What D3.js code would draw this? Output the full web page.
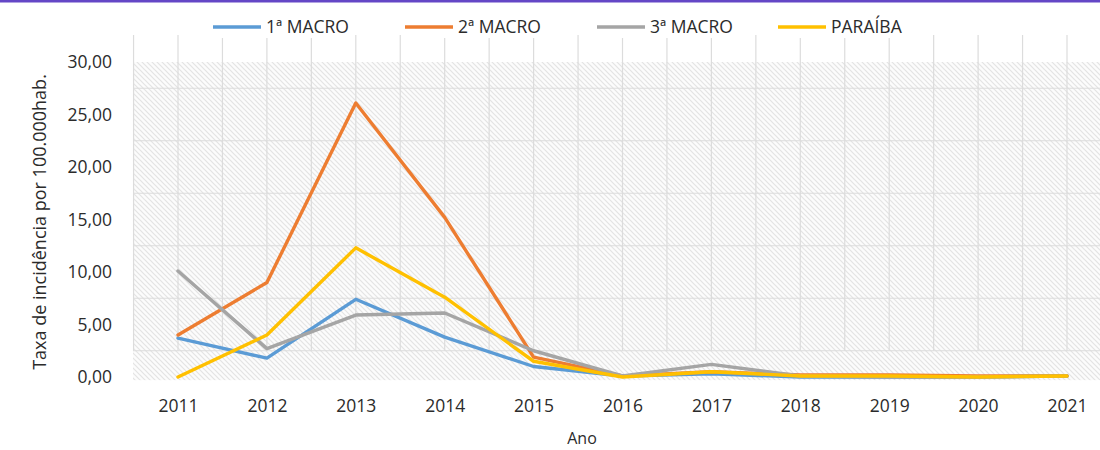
<!DOCTYPE html>
<html>
<head>
<meta charset="utf-8">
<script src="https://cdn.jsdelivr.net/npm/d3@7"></script>
<style>
  body { margin: 0; background: #fff; }
  svg { display: block; }
  text { font-family: "Open Sans", "Noto Sans", sans-serif; fill: #2b2b2b; }
</style>
</head>
<body>
<svg id="chart" width="1100" height="450"></svg>
<script>
var years = ['2011','2012','2013','2014','2015','2016','2017','2018','2019','2020','2021'];
var macro1 = [3.7, 1.8, 7.4, 3.8, 1.0, 0.1, 0.3, 0.0, 0.0, 0.0, 0.1];
var macro2 = [4.0, 9.0, 26.1, 15.2, 1.9, 0.1, 0.5, 0.2, 0.2, 0.1, 0.1];
var macro3 = [10.1, 2.7, 5.9, 6.1, 2.5, 0.1, 1.2, 0.1, 0.0, 0.0, 0.1];
var paraiba = [0.0, 4.0, 12.3, 7.6, 1.5, 0.0, 0.5, 0.1, 0.1, 0.0, 0.1];
var yTicks = [0, 5, 10, 15, 20, 25, 30];
var seriesNames = ['1ª MACRO', '2ª MACRO', '3ª MACRO', 'PARAÍBA'];
var seriesColors = ['#5b9bd5', '#ed7d31', '#a5a5a5', '#ffc000'];

var svg = d3.select('#chart');
var width = 1100, height = 450;

// top border
svg.append('rect')
  .attr('x', 0).attr('y', 0)
  .attr('width', width).attr('height', 2.5)
  .attr('fill', '#6446c6');

var xScale = d3.scalePoint()
  .domain(years)
  .range([178, 1067]);

var yScale = d3.scaleLinear()
  .domain([0, 30])
  .range([377, 62]);

var step = xScale.step();

// hatch pattern
var defs = svg.append('defs');
var pat = defs.append('pattern')
  .attr('id', 'hatch')
  .attr('patternUnits', 'userSpaceOnUse')
  .attr('width', 5).attr('height', 5);
pat.append('rect').attr('width', 5).attr('height', 5).attr('fill', '#fcfcfc');
pat.append('path')
  .attr('d', 'M-1,-1 L6,6 M-1,4 L1,6 M4,-1 L6,1')
  .attr('stroke', '#e4e4e4')
  .attr('stroke-width', 1.2);

svg.append('rect')
  .attr('x', 133).attr('y', yScale(30))
  .attr('width', width - 133)
  .attr('height', yScale(-0.3) - yScale(30))
  .attr('fill', 'url(#hatch)');

// vertical gridlines (categories and midpoints)
var vLines = [];
years.forEach(function(y){
  vLines.push(xScale(y) - step / 2);
  vLines.push(xScale(y));
});
svg.append('g')
  .selectAll('line')
  .data(vLines)
  .enter().append('line')
  .attr('x1', function(d){ return d; })
  .attr('x2', function(d){ return d; })
  .attr('y1', 35)
  .attr('y2', yScale(2.5))
  .attr('stroke', '#dcdcdc')
  .attr('stroke-width', 1.2);

// horizontal gridlines at half steps
var hLines = yTicks.slice(0, -1).map(function(t){ return t + 2.5; });
svg.append('g')
  .selectAll('line')
  .data(hLines)
  .enter().append('line')
  .attr('x1', 133)
  .attr('x2', width)
  .attr('y1', function(d){ return yScale(d); })
  .attr('y2', function(d){ return yScale(d); })
  .attr('stroke', '#dcdcdc')
  .attr('stroke-width', 1.2);

// axes
var yAxis = d3.axisLeft(yScale)
  .tickValues(yTicks)
  .tickSize(0)
  .tickPadding(0)
  .tickFormat(function(d){ return d3.format('.2f')(d).replace('.', ','); });

var gy = svg.append('g')
  .attr('transform', 'translate(112, 0)')
  .call(yAxis);
gy.select('.domain').remove();
gy.selectAll('text')
  .style('font-size', '17.5px')
  .style('font-family', '"Open Sans", sans-serif')
  .attr('fill', '#2b2b2b');

var xAxis = d3.axisBottom(xScale)
  .tickSize(0)
  .tickPadding(0);

var gx = svg.append('g')
  .attr('transform', 'translate(0, 400)')
  .call(xAxis);
gx.select('.domain').remove();
gx.selectAll('text')
  .style('font-size', '17.5px')
  .style('font-family', '"Open Sans", sans-serif')
  .attr('fill', '#2b2b2b');

// axis titles
svg.append('text')
  .attr('transform', 'translate(46, 222) rotate(-90)')
  .attr('text-anchor', 'middle')
  .style('font-size', '18px')
  .text('Taxa de incidência  por 100.000hab.');

svg.append('text')
  .attr('x', 582)
  .attr('y', 444)
  .attr('text-anchor', 'middle')
  .style('font-size', '16px')
  .text('Ano');

// lines
var line = d3.line()
  .x(function(d, i){ return xScale(years[i]); })
  .y(function(d){ return yScale(d); });

var allSeries = [macro1, macro2, macro3, paraiba];
allSeries.forEach(function(s, i){
  svg.append('path')
    .datum(s)
    .attr('fill', 'none')
    .attr('stroke', seriesColors[i])
    .attr('stroke-width', 3.4)
    .attr('stroke-linejoin', 'round')
    .attr('stroke-linecap', 'round')
    .attr('d', line);
});

// legend
var legendX = [213, 405, 597, 778];
var legend = svg.append('g');
seriesNames.forEach(function(name, i){
  legend.append('rect')
    .attr('x', legendX[i] - 4).attr('y', 14)
    .attr('width', 140).attr('height', 24)
    .attr('fill', '#fff');
  legend.append('line')
    .attr('x1', legendX[i]).attr('x2', legendX[i] + 48)
    .attr('y1', 27).attr('y2', 27)
    .attr('stroke', seriesColors[i])
    .attr('stroke-width', 3.4);
  legend.append('text')
    .attr('x', legendX[i] + 53)
    .attr('y', 33)
    .style('font-size', '17.5px')
    .text(name);
});
</script>
</body>
</html>
